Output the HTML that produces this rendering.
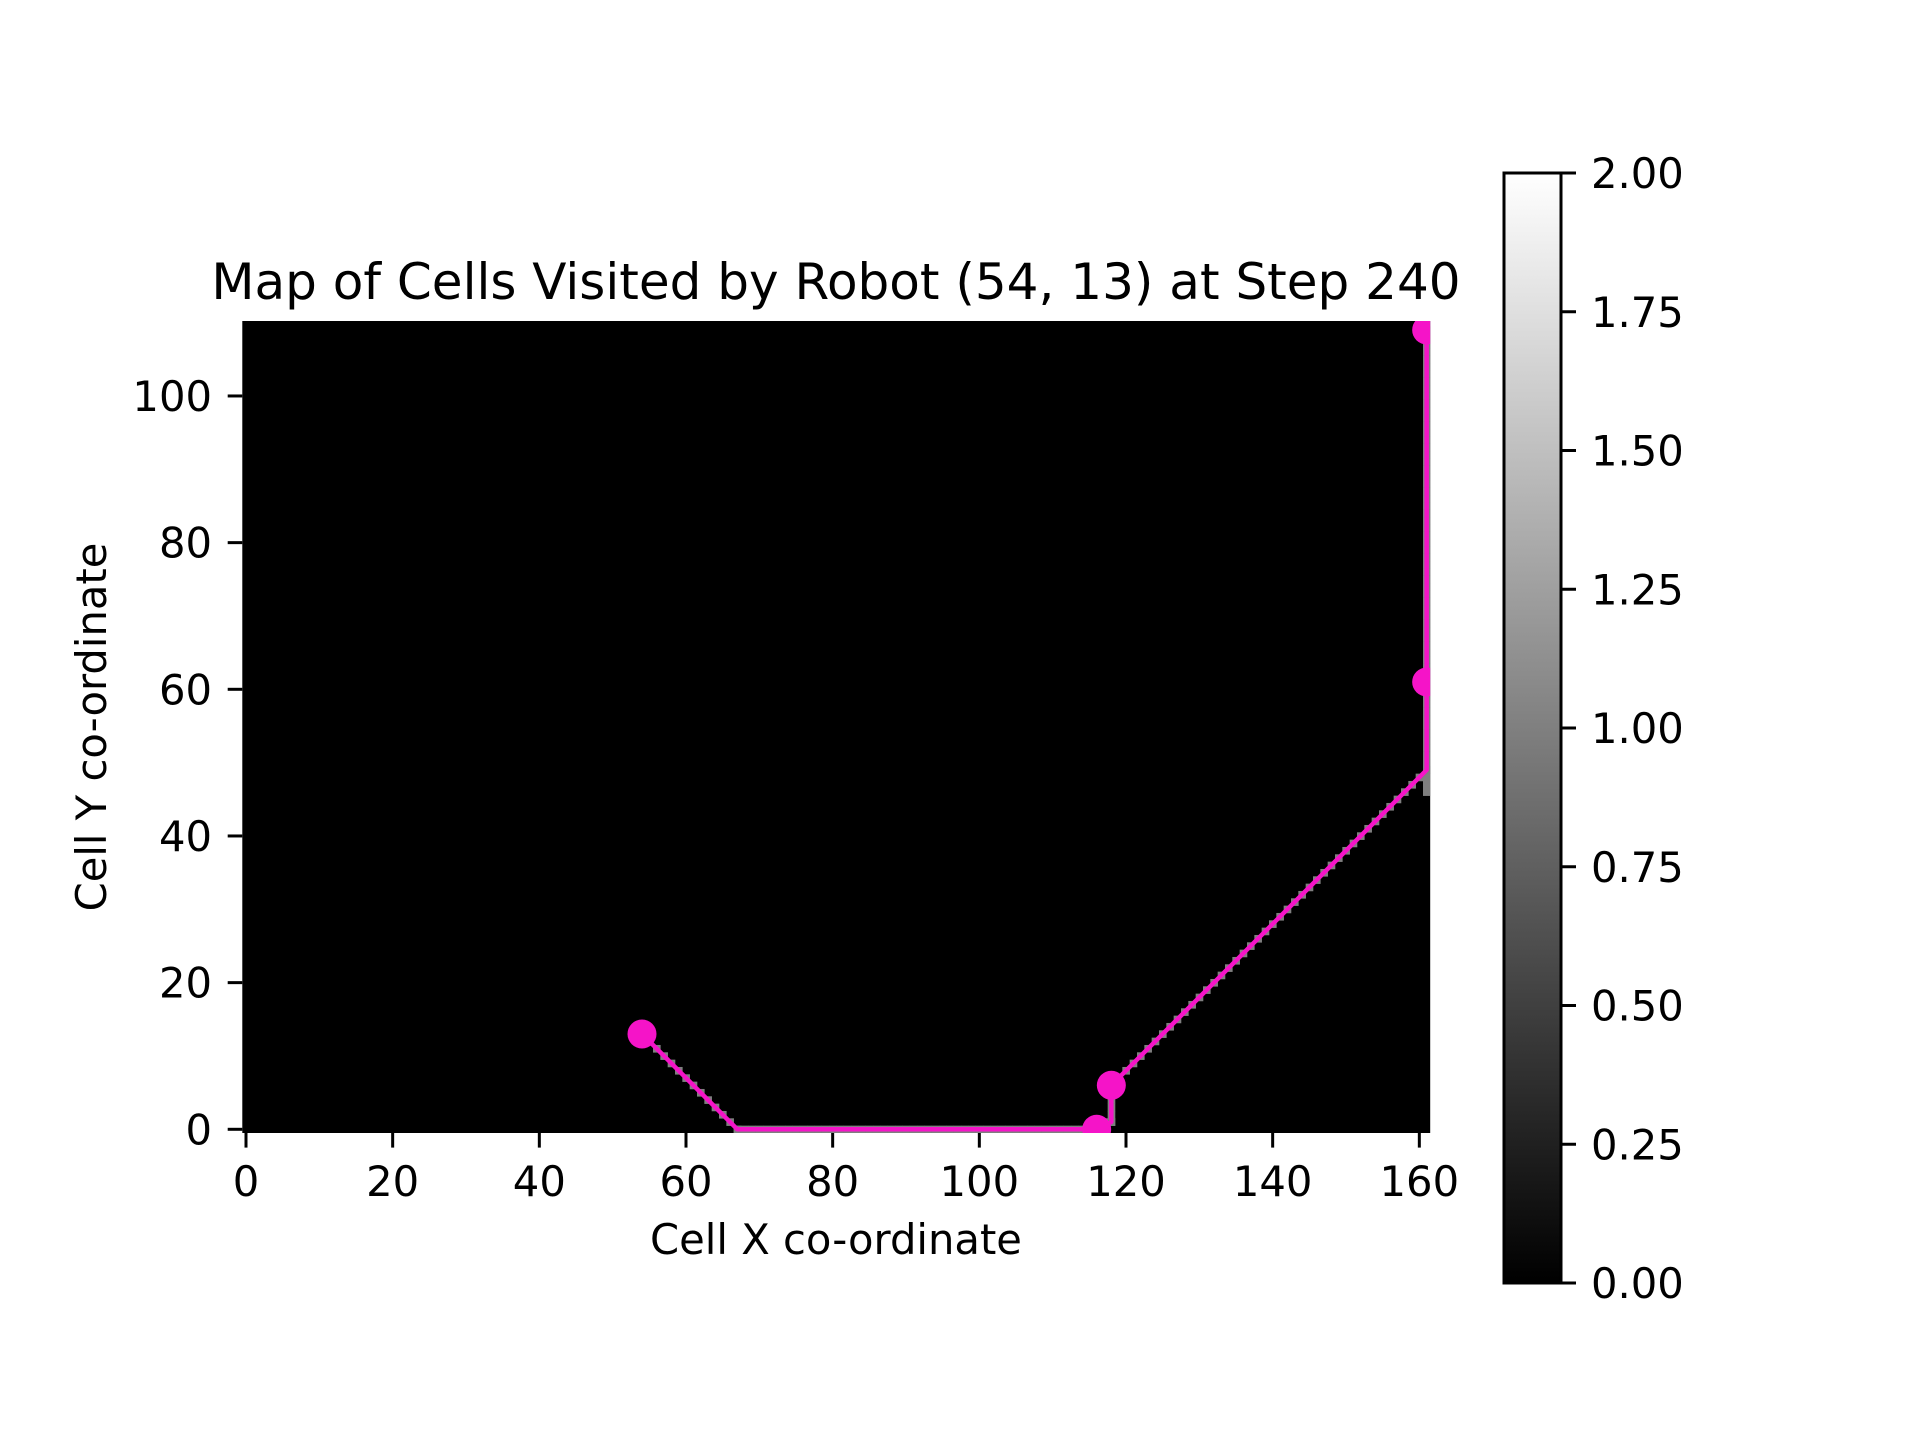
<!DOCTYPE html>
<html><head><meta charset="utf-8"><style>
html,body{margin:0;padding:0;background:#fff;}
svg{display:block;font-family:"DejaVu Sans","Liberation Sans",sans-serif;}
</style></head><body>
<svg id="chart" width="1920" height="1440" viewBox="0 0 1920 1440" xmlns="http://www.w3.org/2000/svg">
<defs>
<clipPath id="axclip"><rect x="242.3" y="321" width="1187.9" height="812"/></clipPath>
<linearGradient id="cbgrad" x1="0" y1="1" x2="0" y2="0"><stop offset="0" stop-color="#000"/><stop offset="1" stop-color="#fff"/></linearGradient>
</defs>
<rect x="0" y="0" width="1920" height="1440" fill="#fff"/>
<text x="836" y="299" font-size="50" text-anchor="middle">Map of Cells Visited by Robot (54, 13) at Step 240</text>
<rect x="242.3" y="321" width="1187.9" height="812" fill="#000"/>
<g id="cells" clip-path="url(#axclip)"></g>
<g id="path" clip-path="url(#axclip)"></g>
<g id="xaxis"></g>
<g id="yaxis"></g>
<text x="836" y="1254" font-size="41.7" text-anchor="middle">Cell X co-ordinate</text>
<text transform="translate(106,727) rotate(-90)" font-size="41.7" text-anchor="middle">Cell Y co-ordinate</text>
<rect x="1504" y="173" width="57" height="1110" fill="url(#cbgrad)" stroke="#000" stroke-width="3"/>
<g id="cbaxis"></g>
</svg>
<script>
const xTicks = [0, 20, 40, 60, 80, 100, 120, 140, 160];
const yTicks = [0, 20, 40, 60, 80, 100];
const cbTicks = [0, 0.25, 0.5, 0.75, 1.0, 1.25, 1.5, 1.75, 2.0];
const cbLabels = ["0.00","0.25","0.50","0.75","1.00","1.25","1.50","1.75","2.00"];
const pathX = [54, 67, 116, 118, 118, 161, 161];
const pathY = [13, 0, 0, 1, 6, 49, 109];
const markerX = [54, 116, 118, 161, 161];
const markerY = [13, 0, 6, 61, 109];
const extraCellX = [161, 161, 161];
const extraCellY = [46, 47, 48];

const NS = "http://www.w3.org/2000/svg";
const PX = 7.3333;
function sx(v){ return 246 + v * PX; }
function sy(v){ return 1129.3 - v * PX; }
function cy(v){ return 1283 - (v / 2) * 1110; }
function mk(tag, attrs, parent){ const e = document.createElementNS(NS, tag); for (const k in attrs) e.setAttribute(k, attrs[k]); parent.appendChild(e); return e; }

const cellsG = document.getElementById('cells');
function cell(x, y){
  const r = mk('rect', {x: sx(x) - PX/2, y: sy(y) - PX/2, width: PX + 0.3, height: PX + 0.3, fill: '#7f7f7f'}, cellsG);
  
  
}
for (let i = 0; i < pathX.length - 1; i++) {
  const x0 = pathX[i], y0 = pathY[i], x1 = pathX[i+1], y1 = pathY[i+1];
  const n = Math.max(Math.abs(x1 - x0), Math.abs(y1 - y0));
  for (let k = 0; k <= n; k++) cell(Math.round(x0 + (x1 - x0) * k / n), Math.round(y0 + (y1 - y0) * k / n));
}
for (let i = 0; i < extraCellX.length; i++) cell(extraCellX[i], extraCellY[i]);

const pathG = document.getElementById('path');
const line = mk('polyline', {points: pathX.map((x, i) => sx(x) + ',' + sy(pathY[i])).join(' '), fill: 'none', stroke: '#f514c8', 'stroke-width': 4.5, 'stroke-linejoin': 'round'}, pathG);


for (let i = 0; i < markerX.length; i++) {
  const c = mk('circle', {cx: sx(markerX[i]), cy: sy(markerY[i]), r: 14.5, fill: '#f514c8'}, pathG);
  
  
}

const xa = document.getElementById('xaxis');
xTicks.forEach(v => {
  const t = mk('line', {x1: sx(v), x2: sx(v), y1: 1133, y2: 1147.6, stroke: '#000', 'stroke-width': 3}, xa);
  
  
  const l = mk('text', {x: sx(v), y: 1196, 'font-size': 41.7, 'text-anchor': 'middle'}, xa);
  l.textContent = v;
  
  
});
const ya = document.getElementById('yaxis');
yTicks.forEach(v => {
  const t = mk('line', {x1: 242.3, x2: 227.7, y1: sy(v), y2: sy(v), stroke: '#000', 'stroke-width': 3}, ya);
  
  
  const l = mk('text', {x: 212, y: sy(v) + 15, 'font-size': 41.7, 'text-anchor': 'end'}, ya);
  l.textContent = v;
  
  
});
const cb = document.getElementById('cbaxis');
cbTicks.forEach((v, i) => {
  const t = mk('line', {x1: 1561, x2: 1576, y1: cy(v), y2: cy(v), stroke: '#000', 'stroke-width': 3}, cb);
  
  
  const l = mk('text', {x: 1591, y: cy(v) + 15, 'font-size': 41.7}, cb);
  l.textContent = cbLabels[i];
  
  
});
</script>
</body></html>
